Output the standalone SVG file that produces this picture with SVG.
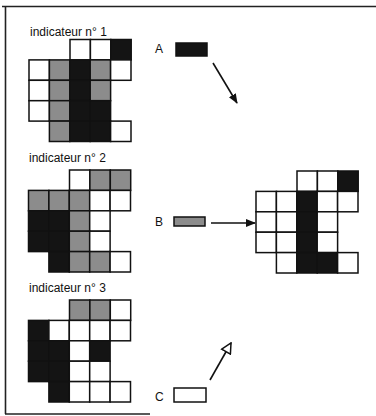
<svg xmlns="http://www.w3.org/2000/svg" width="376" height="416" viewBox="0 0 376 416">
<style>
  text { font-family: "Liberation Sans", Arial, sans-serif; font-size: 12px; fill: #111; }
  .w { fill: #fff; stroke: #111; stroke-width: 1.5; }
  .g { fill: #8c8c8c; stroke: #111; stroke-width: 1.5; }
  .k { fill: #141414; stroke: #111; stroke-width: 1.5; }
  .frame { stroke: #222; stroke-width: 1.6; fill: none; }
  .arr { stroke: #111; stroke-width: 1.6; fill: none; }
</style>
<defs>
  <marker id="solid" viewBox="0 0 10 10" refX="9" refY="5" markerWidth="10" markerHeight="10" markerUnits="userSpaceOnUse" orient="auto">
    <path d="M0,1 L10,5 L0,9 Z" fill="#111"/>
  </marker>
  <marker id="open" viewBox="0 0 12 12" refX="11" refY="6" markerWidth="12" markerHeight="12" markerUnits="userSpaceOnUse" orient="auto">
    <path d="M1,1 L11,6 L1,11 Z" fill="#fff" stroke="#111" stroke-width="1.5"/>
  </marker>
</defs>
<rect width="376" height="416" fill="#fff"/>
<g id="frame">
  <line class="frame" x1="2" y1="6.5" x2="376" y2="6.5"/>
  <line class="frame" x1="5.5" y1="6" x2="5.5" y2="414"/>
  <line class="frame" x1="5" y1="414" x2="150" y2="414"/>
</g>

<g id="indicateur1">
  <text x="30" y="36">indicateur n° 1</text>
  <g transform="translate(29,39.5)">
    <rect class="w" x="41" y="0" width="20.4" height="20.4"/>
    <rect class="w" x="61.4" y="0" width="20.4" height="20.4"/>
    <rect class="k" x="81.8" y="0" width="20.4" height="20.4"/>
    <rect class="w" x="0" y="20.4" width="20.4" height="20.4"/>
    <rect class="g" x="20.4" y="20.4" width="20.4" height="20.4"/>
    <rect class="k" x="40.8" y="20.4" width="20.4" height="20.4"/>
    <rect class="g" x="61.2" y="20.4" width="20.4" height="20.4"/>
    <rect class="w" x="81.6" y="20.4" width="20.4" height="20.4"/>
    <rect class="w" x="0" y="40.8" width="20.4" height="20.4"/>
    <rect class="g" x="20.4" y="40.8" width="20.4" height="20.4"/>
    <rect class="k" x="40.8" y="40.8" width="20.4" height="20.4"/>
    <rect class="g" x="61.2" y="40.8" width="20.4" height="20.4"/>
    <rect class="w" x="0" y="61.2" width="20.4" height="20.4"/>
    <rect class="g" x="20.4" y="61.2" width="20.4" height="20.4"/>
    <rect class="k" x="40.8" y="61.2" width="20.4" height="20.4"/>
    <rect class="k" x="61.2" y="61.2" width="20.4" height="20.4"/>
    <rect class="g" x="20.4" y="81.6" width="20.4" height="20.4"/>
    <rect class="k" x="40.8" y="81.6" width="20.4" height="20.4"/>
    <rect class="k" x="61.2" y="81.6" width="20.4" height="20.4"/>
    <rect class="w" x="81.6" y="81.6" width="20.4" height="20.4"/>
  </g>
</g>

<g id="indicateur2">
  <text x="29" y="162">indicateur n° 2</text>
  <g transform="translate(28.5,170)">
    <rect class="w" x="41" y="0" width="20.4" height="20.4"/>
    <rect class="g" x="61.4" y="0" width="20.4" height="20.4"/>
    <rect class="g" x="81.8" y="0" width="20.4" height="20.4"/>
    <rect class="g" x="0" y="20.4" width="20.4" height="20.4"/>
    <rect class="g" x="20.4" y="20.4" width="20.4" height="20.4"/>
    <rect class="g" x="40.8" y="20.4" width="20.4" height="20.4"/>
    <rect class="w" x="61.2" y="20.4" width="20.4" height="20.4"/>
    <rect class="w" x="81.6" y="20.4" width="20.4" height="20.4"/>
    <rect class="k" x="0" y="40.8" width="20.4" height="20.4"/>
    <rect class="k" x="20.4" y="40.8" width="20.4" height="20.4"/>
    <rect class="g" x="40.8" y="40.8" width="20.4" height="20.4"/>
    <rect class="w" x="61.2" y="40.8" width="20.4" height="20.4"/>
    <rect class="k" x="0" y="61.2" width="20.4" height="20.4"/>
    <rect class="k" x="20.4" y="61.2" width="20.4" height="20.4"/>
    <rect class="g" x="40.8" y="61.2" width="20.4" height="20.4"/>
    <rect class="w" x="61.2" y="61.2" width="20.4" height="20.4"/>
    <rect class="k" x="20.4" y="81.6" width="20.4" height="20.4"/>
    <rect class="g" x="40.8" y="81.6" width="20.4" height="20.4"/>
    <rect class="g" x="61.2" y="81.6" width="20.4" height="20.4"/>
    <rect class="w" x="81.6" y="81.6" width="20.4" height="20.4"/>
  </g>
</g>

<g id="indicateur3">
  <text x="29" y="292">indicateur n° 3</text>
  <g transform="translate(28.5,300)">
    <rect class="g" x="41" y="0" width="20.4" height="20.4"/>
    <rect class="g" x="61.4" y="0" width="20.4" height="20.4"/>
    <rect class="w" x="81.8" y="0" width="20.4" height="20.4"/>
    <rect class="k" x="0" y="20.4" width="20.4" height="20.4"/>
    <rect class="w" x="20.4" y="20.4" width="20.4" height="20.4"/>
    <rect class="w" x="40.8" y="20.4" width="20.4" height="20.4"/>
    <rect class="w" x="61.2" y="20.4" width="20.4" height="20.4"/>
    <rect class="w" x="81.6" y="20.4" width="20.4" height="20.4"/>
    <rect class="k" x="0" y="40.8" width="20.4" height="20.4"/>
    <rect class="k" x="20.4" y="40.8" width="20.4" height="20.4"/>
    <rect class="w" x="40.8" y="40.8" width="20.4" height="20.4"/>
    <rect class="k" x="61.2" y="40.8" width="20.4" height="20.4"/>
    <rect class="k" x="0" y="61.2" width="20.4" height="20.4"/>
    <rect class="k" x="20.4" y="61.2" width="20.4" height="20.4"/>
    <rect class="w" x="40.8" y="61.2" width="20.4" height="20.4"/>
    <rect class="w" x="61.2" y="61.2" width="20.4" height="20.4"/>
    <rect class="k" x="20.4" y="81.6" width="20.4" height="20.4"/>
    <rect class="w" x="40.8" y="81.6" width="20.4" height="20.4"/>
    <rect class="w" x="61.2" y="81.6" width="20.4" height="20.4"/>
    <rect class="w" x="81.6" y="81.6" width="20.4" height="20.4"/>
  </g>
</g>

<g id="resultat">
  <g transform="translate(256,171)">
    <rect class="w" x="41" y="0" width="20.4" height="20.4"/>
    <rect class="w" x="61.4" y="0" width="20.4" height="20.4"/>
    <rect class="k" x="81.8" y="0" width="20.4" height="20.4"/>
    <rect class="w" x="0" y="20.4" width="20.4" height="20.4"/>
    <rect class="w" x="20.4" y="20.4" width="20.4" height="20.4"/>
    <rect class="k" x="40.8" y="20.4" width="20.4" height="20.4"/>
    <rect class="w" x="61.2" y="20.4" width="20.4" height="20.4"/>
    <rect class="w" x="81.6" y="20.4" width="20.4" height="20.4"/>
    <rect class="w" x="0" y="40.8" width="20.4" height="20.4"/>
    <rect class="w" x="20.4" y="40.8" width="20.4" height="20.4"/>
    <rect class="k" x="40.8" y="40.8" width="20.4" height="20.4"/>
    <rect class="w" x="61.2" y="40.8" width="20.4" height="20.4"/>
    <rect class="w" x="0" y="61.2" width="20.4" height="20.4"/>
    <rect class="w" x="20.4" y="61.2" width="20.4" height="20.4"/>
    <rect class="k" x="40.8" y="61.2" width="20.4" height="20.4"/>
    <rect class="w" x="61.2" y="61.2" width="20.4" height="20.4"/>
    <rect class="w" x="20.4" y="81.6" width="20.4" height="20.4"/>
    <rect class="k" x="40.8" y="81.6" width="20.4" height="20.4"/>
    <rect class="k" x="61.2" y="81.6" width="20.4" height="20.4"/>
    <rect class="w" x="81.6" y="81.6" width="20.4" height="20.4"/>
  </g>
</g>

<g id="legendA">
  <text x="155" y="53">A</text>
  <rect class="k" x="176" y="43" width="31" height="13"/>
</g>
<g id="legendB">
  <text x="155" y="226">B</text>
  <rect class="g" x="174" y="217" width="31" height="9"/>
</g>
<g id="legendC">
  <text x="155" y="401">C</text>
  <rect class="w" x="174" y="388" width="32" height="14"/>
</g>

<g id="connectors">
  <line class="arr" x1="213" y1="63" x2="237" y2="103" marker-end="url(#solid)"/>
  <line class="arr" x1="211" y1="223" x2="255" y2="223" marker-end="url(#solid)"/>
  <line class="arr" x1="210" y1="380" x2="231" y2="343" marker-end="url(#open)"/>
</g>
</svg>
